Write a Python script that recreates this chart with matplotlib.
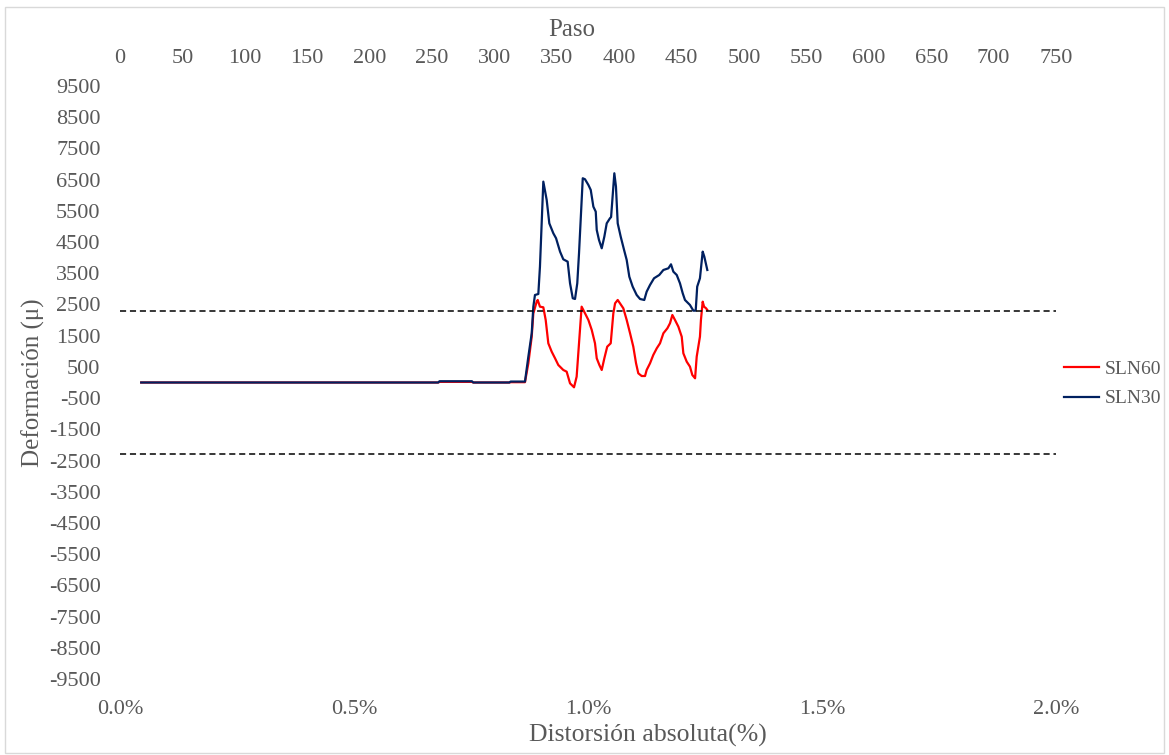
import matplotlib
matplotlib.use("Agg")
import matplotlib.pyplot as plt
from matplotlib.patches import Rectangle
from matplotlib.ticker import FuncFormatter, MultipleLocator

plt.rcParams['font.family'] = ['Liberation Serif', 'DejaVu Serif']
plt.rcParams['axes.unicode_minus'] = False

# ---- data (Paso vs deformation) ----
sln30_paso = [17, 255, 256, 282, 283, 312, 313, 324.5, 327.2, 329.9, 331.2, 332.5, 335.2, 336.5,
              339.2, 341.9, 344.0, 347.2, 349.4, 352.6, 355.2, 358.7, 360.6, 362.8, 364.6, 366.4,
              367.8, 368.6, 370.8, 372.6, 375.3, 377.2, 379.3, 381.2, 382.0, 383.8, 386.0, 388.1,
              390.0, 392.6, 393.5, 396.1, 397.4, 398.8, 401.2, 403.9, 406.0, 408.1, 410.8, 414.0,
              416.7, 420.1, 422.0, 424.7, 427.9, 432.1, 435.4, 439.4, 441.5, 443.4, 446.1, 448.7,
              450.9, 452.7, 456.7, 459.4, 461.3, 462.5, 464.7, 466.9, 468.2, 470.6]
sln30_def = [0, 0, 40, 40, 0, 0, 30, 30, 828, 1577, 2430, 2804, 2836, 3712,
             6436, 5849, 5100, 4782, 4622, 4193, 3947, 3872, 3178, 2699, 2676, 3178,
             4140, 4782, 6544, 6512, 6330, 6170, 5634, 5474, 4888, 4567, 4300, 4674,
             5100, 5262, 5300, 6704, 6276, 5100, 4674, 4247, 3926, 3391, 3071, 2804,
             2676, 2644, 2910, 3125, 3339, 3445, 3605, 3659, 3787, 3551, 3445, 3178,
             2858, 2644, 2484, 2302, 2302, 3071, 3339, 4193, 4033, 3605]

sln60_paso = [17, 255, 256, 282, 283, 312, 313, 324.5, 327.2, 329.9, 331.2, 333.9, 334.7, 336.5,
              339.2, 341.1, 343.2, 345.9, 348.6, 351.2, 355.2, 357.9, 360.6, 363.8, 365.9, 367.8,
              369.9, 372.6, 375.3, 378.0, 380.6, 382.0, 384.1, 386.0, 388.1, 390.4, 393.2, 395.3,
              396.7, 398.8, 403.3, 406.0, 408.7, 411.3, 413.5, 415.3, 418.0, 420.7, 422.0, 424.7,
              427.3, 430.1, 432.7, 435.4, 438.6, 440.7, 442.6, 444.7, 447.4, 450.1, 451.4, 454.1,
              456.7, 458.6, 460.8, 462.1, 464.7, 465.5, 466.9, 468.0, 469.6, 470.6]
sln60_def = [0, 0, 20, 20, 0, 0, 10, 10, 615, 1468, 2217, 2590, 2644, 2430,
             2409, 2003, 1256, 988, 775, 561, 401, 347, -26, -154, 187, 1256,
             2430, 2217, 2003, 1683, 1256, 775, 561, 401, 775, 1148, 1256, 2217,
             2538, 2644, 2378, 2003, 1577, 1148, 615, 295, 208, 208, 401, 615,
             881, 1096, 1256, 1577, 1737, 1897, 2163, 2003, 1789, 1468, 936, 667,
             508, 240, 135, 828, 1468, 2003, 2590, 2430, 2378, 2324]

limit_value = 2300
paso_max = 750
dist_max = 2.0  # percent

text_color = '#595959'

fig = plt.figure(figsize=(11.69, 7.55), dpi=100)
ax = fig.add_axes([120/1169, 1-679/755, (1056-120)/1169, (679-86)/755])

ax.plot(sln60_paso, sln60_def, color='#FF0000', lw=1.6, label='SLN60', solid_joinstyle='round')
ax.plot(sln30_paso, sln30_def, color='#002060', lw=1.6, label='SLN30', solid_joinstyle='round')
ax.axhline(limit_value, color='black', lw=1.1, ls=(0, (4, 2.5)))
ax.axhline(-limit_value, color='black', lw=1.1, ls=(0, (4, 2.5)))

ax.set_xlim(0, paso_max)
ax.set_ylim(-9500, 9500)
ax.set_yticks(list(range(-9500, 9501, 1000)))
ax.xaxis.set_major_locator(MultipleLocator(50))
ax.xaxis.tick_top()
ax.xaxis.set_label_position('top')
ax.set_xlabel('Paso', fontsize=18, color=text_color, labelpad=9)
ax.xaxis.label.set_x(0.483)
ax.set_ylabel('Deformación (μ)', fontsize=18, color=text_color, labelpad=3)

for s in ax.spines.values():
    s.set_visible(False)
ax.tick_params(axis='both', length=0, labelsize=16, labelcolor=text_color)
ax.tick_params(axis='x', pad=13)
ax.tick_params(axis='y', pad=14)

sec = ax.secondary_xaxis('bottom', functions=(lambda p: p * dist_max / paso_max,
                                              lambda d: d * paso_max / dist_max))
sec.set_xticks([0.0, 0.5, 1.0, 1.5, 2.0])
sec.xaxis.set_major_formatter(FuncFormatter(lambda v, p: f'{v:.1f}%'))
sec.tick_params(axis='x', length=0, labelsize=16, labelcolor=text_color, pad=15)
sec.spines['bottom'].set_visible(False)
sec.set_xlabel('Distorsión absoluta(%)', fontsize=18.5, color=text_color, labelpad=4)
sec.xaxis.label.set_x(0.564)

leg = fig.legend(loc='center left', bbox_to_anchor=(1064/1169, 1-384/755), frameon=False,
                 fontsize=14, handlelength=1.8, labelspacing=0.6, handletextpad=0.3,
                 borderpad=0, borderaxespad=0)
for t in leg.get_texts():
    t.set_color(text_color)

fig.patches.append(Rectangle((5/1169, 2/755), 1 - 10/1169, 1 - 9/755, transform=fig.transFigure,
                             fill=False, edgecolor='#d9d9d9', lw=1))

fig.savefig('out.png', dpi=100)
